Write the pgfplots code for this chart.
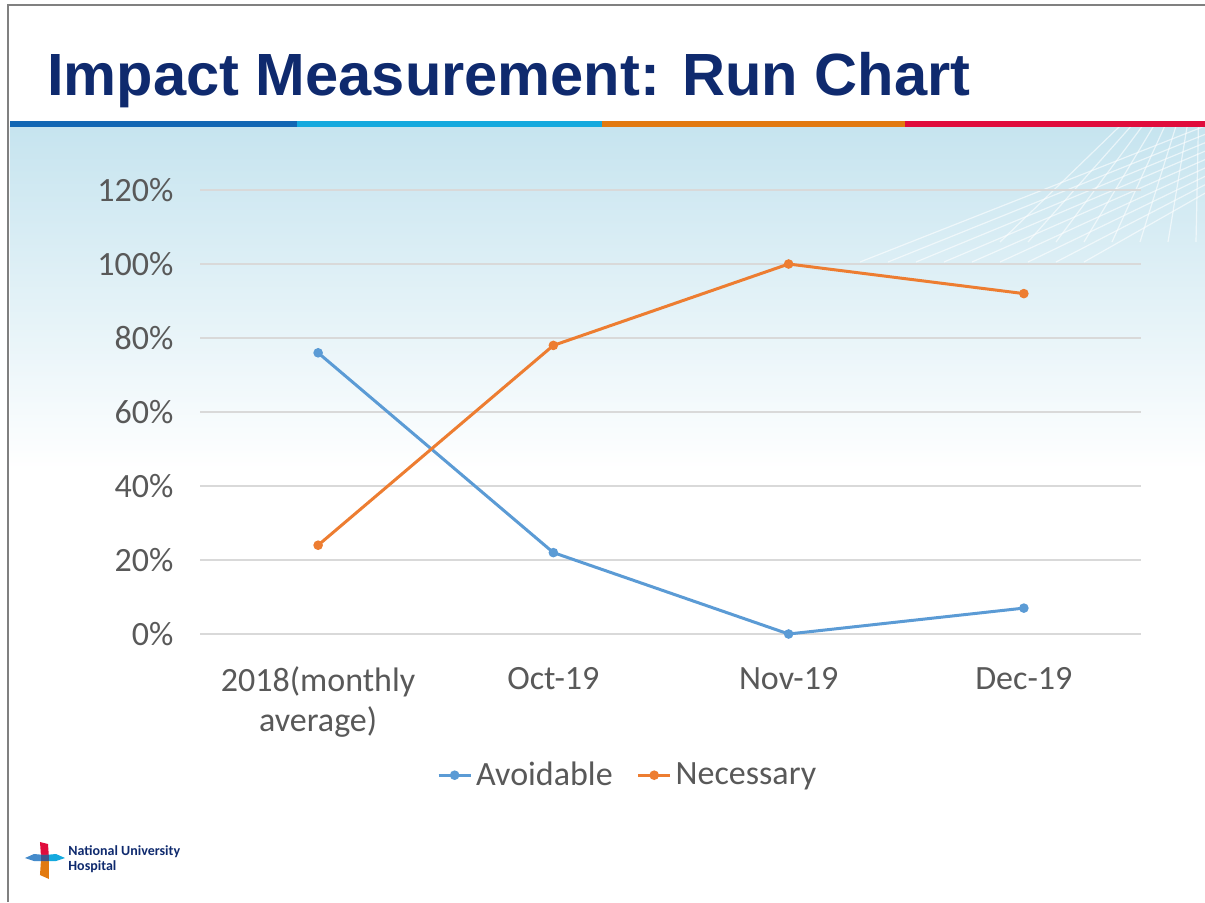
\documentclass[border=0pt]{standalone}
\usepackage{pgfplots}
\pgfplotsset{compat=1.18}
\usepackage{fontspec}
\setmainfont{Carlito}
\newfontfamily\titlefont{Liberation Sans}
\usetikzlibrary{backgrounds}
\definecolor{navy}{HTML}{0F2A6E}
\definecolor{sblue}{HTML}{1267B4}
\definecolor{slight}{HTML}{14A9DE}
\definecolor{sorange}{HTML}{E27A10}
\definecolor{sred}{HTML}{E00C3C}
\definecolor{bgblue}{HTML}{C6E4EF}
\definecolor{avoid}{HTML}{5B9BD5}
\definecolor{neces}{HTML}{ED7D31}
\definecolor{ticktext}{HTML}{595959}
\definecolor{gridgray}{HTML}{D9D9D9}
\begin{document}
\begin{tikzpicture}
\begin{axis}[
  scale only axis, width=470.5pt, height=222pt,
  xmin=-0.5, xmax=3.5, ymin=0, ymax=120,
  xtick={0,1,2,3},
  xticklabels={{2018(monthly\\average)},Oct-19,Nov-19,Dec-19},
  ytick={0,20,...,120},
  yticklabels={0\%,20\%,40\%,60\%,80\%,100\%,120\%},
  ymajorgrids, grid style={gridgray, line width=0.6pt},
  axis line style={draw=none},
  major tick length=0pt,
  tick label style={font=\fontsize{17}{20}\selectfont, text=ticktext},
  xticklabel style={align=center, yshift=-13pt},
  yticklabel style={xshift=-10pt},
  legend style={at={(0.455,-0.318)}, anchor=center, draw=none, fill=none,
    font=\fontsize{17}{20}\selectfont, text=ticktext,
    legend columns=2, /tikz/every even column/.append style={column sep=10pt}},
  legend image code/.code={
    \draw[#1, mark repeat=2, mark phase=2] plot coordinates {(0pt,0pt) (8pt,0pt) (16pt,0pt)};},
]
\addplot[avoid, line width=1.5pt, mark=*, mark size=1.6pt] coordinates {(0,76) (1,22) (2,0) (3,7)};
\addlegendentry{Avoidable}
\addplot[neces, line width=1.5pt, mark=*, mark size=1.6pt] coordinates {(0,24) (1,78) (2,100) (3,92)};
\addlegendentry{Necessary}
\coordinate (O) at (rel axis cs:0,0);
\end{axis}
% page frame: 1205x902 px = 602.5x451 pt; axis corner O sits at px (200.5,634)
\begin{scope}[on background layer, shift={(O)}, xshift=-100.25pt, yshift=-134pt, x=1pt, y=1pt]
  \fill[white] (0,0) rectangle (602.5,451);
  \shade[top color=bgblue, bottom color=white] (5,388) rectangle (602.5,215);
  \begin{scope}[white, line width=0.6pt, opacity=0.6]
    \foreach \s in {0,14,...,112} {
      \draw (430+\s,320) -- (602.5,388-\s*0.3);
      \draw (560+\s*0.4,388) -- (500+\s,330);
    }
  \end{scope}
\end{scope}
\begin{scope}[shift={(O)}, xshift=-100.25pt, yshift=-134pt, x=1pt, y=1pt]
  \draw[gray, line width=1pt] (4,0) -- (4,448.5) -- (602.5,448.5);
  \fill[sblue]   (5,387.5) rectangle (148.5,390.5);
  \fill[slight]  (148.5,387.5) rectangle (301,390.5);
  \fill[sorange] (301,387.5) rectangle (452.5,390.5);
  \fill[sred]    (452.5,387.5) rectangle (602.5,390.5);
  \node[anchor=base west, inner sep=0pt, text=navy, font=\titlefont\bfseries\fontsize{29.8}{36}\selectfont]
    at (23.5,403.5) {Impact Measurement: Run Chart};
  % logo
  \fill[sred]    (20.5,23) -- (20,30) -- (24,29) -- (24.5,22) -- cycle;
  \fill[sorange] (20.5,21) -- (20,13.5) -- (24.5,11.5) -- (24.5,21) -- cycle;
  \fill[avoid!70!sblue] (12.5,22) -- (17,24) -- (22.5,23.5) -- (22.5,20.5) -- (17,20.5) -- cycle;
  \fill[slight]  (22.5,23.5) -- (28,24) -- (32.5,22) -- (28,20.5) -- (22.5,20.5) -- cycle;
  \fill[navy!80] (20.5,20.5) rectangle (24.5,23.5);
  \node[anchor=west, align=left, text=navy, inner sep=0pt,
        font=\bfseries\fontsize{7}{7.5}\selectfont] at (34,21.5) {National University\\Hospital};
  \pgfresetboundingbox
  \path[use as bounding box] (0,0) rectangle (602.5,451);
\end{scope}
\end{tikzpicture}
\end{document}
